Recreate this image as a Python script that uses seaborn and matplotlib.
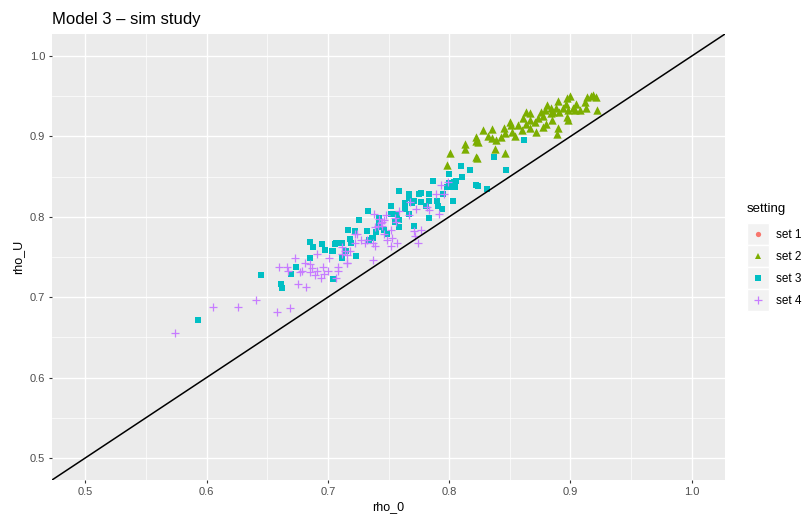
import matplotlib
matplotlib.use("Agg")
import matplotlib.pyplot as plt
import numpy as np
import pandas as pd
import seaborn as sns
from matplotlib.legend_handler import HandlerBase
from matplotlib.patches import Rectangle
from matplotlib.lines import Line2D

# ---- simulation results: rho_0 vs rho_U per setting ----
set1_rho0 = []
set1_rhoU = []

set2_rho0 = [0.798, 0.801, 0.813, 0.813, 0.822, 0.822, 0.824, 0.822, 0.823, 0.838,
             0.846, 0.832, 0.835, 0.835, 0.839, 0.843, 0.846, 0.850, 0.851, 0.852,
             0.854, 0.857, 0.860, 0.861, 0.863, 0.867, 0.867, 0.867, 0.871, 0.872,
             0.876, 0.877, 0.879, 0.880, 0.881, 0.884, 0.884, 0.886, 0.888, 0.890,
             0.891, 0.890, 0.889, 0.894, 0.896, 0.897, 0.898, 0.897, 0.898, 0.900,
             0.905, 0.904, 0.908, 0.912, 0.913, 0.914, 0.917, 0.919, 0.921, 0.922,
             0.873, 0.863, 0.877, 0.885, 0.902, 0.845, 0.828]
set2_rhoU = [0.865, 0.880, 0.890, 0.885, 0.894, 0.899, 0.893, 0.875, 0.873, 0.884,
             0.880, 0.901, 0.909, 0.898, 0.895, 0.899, 0.904, 0.918, 0.914, 0.905,
             0.901, 0.914, 0.908, 0.923, 0.916, 0.929, 0.920, 0.911, 0.918, 0.905,
             0.930, 0.926, 0.933, 0.916, 0.939, 0.935, 0.929, 0.931, 0.936, 0.944,
             0.930, 0.911, 0.903, 0.936, 0.941, 0.948, 0.933, 0.924, 0.920, 0.950,
             0.941, 0.933, 0.933, 0.943, 0.936, 0.949, 0.950, 0.951, 0.949, 0.933,
             0.923, 0.930, 0.912, 0.920, 0.936, 0.910, 0.908]

set3_rho0 = [0.862, 0.837, 0.847, 0.810, 0.817, 0.800, 0.811, 0.806, 0.804, 0.800,
             0.802, 0.805, 0.822, 0.824, 0.831, 0.787, 0.798, 0.795, 0.803, 0.783,
             0.777, 0.775, 0.767, 0.759, 0.767, 0.771, 0.777, 0.783, 0.781, 0.790,
             0.791, 0.794, 0.783, 0.769, 0.764, 0.764, 0.767, 0.752, 0.752, 0.757,
             0.759, 0.755, 0.759, 0.771, 0.733, 0.742, 0.742, 0.741, 0.726, 0.717,
             0.722, 0.732, 0.718, 0.712, 0.707, 0.704, 0.723, 0.712, 0.737, 0.734,
             0.740, 0.746, 0.749, 0.685, 0.688, 0.695, 0.698, 0.706, 0.719, 0.703,
             0.715, 0.685, 0.674, 0.670, 0.704, 0.645, 0.661, 0.662, 0.593, 0.736]
set3_rhoU = [0.895, 0.874, 0.858, 0.863, 0.858, 0.853, 0.849, 0.845, 0.843, 0.842,
             0.837, 0.837, 0.839, 0.838, 0.835, 0.844, 0.837, 0.829, 0.820, 0.829,
             0.830, 0.829, 0.829, 0.832, 0.823, 0.820, 0.818, 0.820, 0.814, 0.820,
             0.813, 0.810, 0.799, 0.817, 0.817, 0.810, 0.804, 0.813, 0.804, 0.804,
             0.796, 0.794, 0.787, 0.788, 0.807, 0.799, 0.793, 0.787, 0.796, 0.783,
             0.782, 0.782, 0.772, 0.768, 0.767, 0.758, 0.751, 0.749, 0.774, 0.771,
             0.781, 0.783, 0.779, 0.769, 0.763, 0.766, 0.759, 0.766, 0.768, 0.758,
             0.757, 0.749, 0.737, 0.729, 0.723, 0.728, 0.716, 0.712, 0.671, 0.774]

set4_rho0 = [0.574, 0.605, 0.626, 0.641, 0.658, 0.669, 0.673, 0.660, 0.666, 0.667,
             0.675, 0.682, 0.681, 0.685, 0.687, 0.691, 0.685, 0.689, 0.696, 0.697,
             0.700, 0.694, 0.677, 0.679, 0.708, 0.712, 0.714, 0.716, 0.718, 0.716,
             0.707, 0.708, 0.691, 0.722, 0.724, 0.727, 0.731, 0.722, 0.737, 0.737,
             0.739, 0.739, 0.741, 0.744, 0.745, 0.748, 0.738, 0.742, 0.746, 0.749,
             0.793, 0.799, 0.796, 0.789, 0.783, 0.773, 0.767, 0.759, 0.756, 0.746,
             0.745, 0.752, 0.753, 0.771, 0.772, 0.777, 0.774, 0.757, 0.752, 0.712,
             0.716, 0.701, 0.732, 0.768, 0.782, 0.755, 0.792]
set4_rhoU = [0.656, 0.688, 0.688, 0.697, 0.682, 0.687, 0.749, 0.737, 0.738, 0.733,
             0.717, 0.713, 0.743, 0.741, 0.736, 0.733, 0.731, 0.728, 0.737, 0.729,
             0.733, 0.724, 0.731, 0.733, 0.737, 0.754, 0.757, 0.752, 0.758, 0.742,
             0.724, 0.732, 0.754, 0.779, 0.779, 0.771, 0.768, 0.767, 0.746, 0.767,
             0.764, 0.787, 0.789, 0.792, 0.793, 0.802, 0.804, 0.797, 0.779, 0.771,
             0.840, 0.843, 0.828, 0.829, 0.808, 0.810, 0.802, 0.807, 0.793, 0.796,
             0.788, 0.783, 0.774, 0.782, 0.776, 0.783, 0.767, 0.768, 0.764, 0.762,
             0.743, 0.749, 0.771, 0.818, 0.812, 0.798, 0.804]

settings = ["set 1", "set 2", "set 3", "set 4"]
colors = {"set 1": "#F8766D", "set 2": "#7CAE00", "set 3": "#00BFC4", "set 4": "#C77CFF"}
markers = {"set 1": "o", "set 2": "^", "set 3": "s", "set 4": "+"}

data = {
    "set 1": (set1_rho0, set1_rhoU),
    "set 2": (set2_rho0, set2_rhoU),
    "set 3": (set3_rho0, set3_rhoU),
    "set 4": (set4_rho0, set4_rhoU),
}
df = pd.concat(
    [pd.DataFrame({"rho_0": x, "rho_U": y, "setting": k}) for k, (x, y) in data.items()],
    ignore_index=True,
)

plt.rcParams["font.family"] = ["Liberation Sans", "DejaVu Sans"]

fig = plt.figure(figsize=(8.04, 5.14), dpi=100)
W, H = 804, 514
ax = fig.add_axes([52 / W, 1 - 480 / H, (725 - 52) / W, (480 - 34) / H])
ax.set_facecolor("#EBEBEB")
for sp in ax.spines.values():
    sp.set_visible(False)

lims = (0.4725, 1.0275)
ax.set_xlim(*lims)
ax.set_ylim(*lims)
major = [0.5, 0.6, 0.7, 0.8, 0.9, 1.0]
minor = [0.55, 0.65, 0.75, 0.85, 0.95]
ax.set_xticks(major)
ax.set_yticks(major)
ax.set_xticks(minor, minor=True)
ax.set_yticks(minor, minor=True)
ax.set_xticklabels([f"{v:.1f}" for v in major])
ax.set_yticklabels([f"{v:.1f}" for v in major])
ax.grid(which="major", color="white", linewidth=1.0)
ax.grid(which="minor", color="white", linewidth=0.5)
ax.set_axisbelow(True)
ax.tick_params(which="minor", length=0)
ax.tick_params(which="major", length=2.2, width=0.8, color="#333333",
               labelcolor="#4D4D4D", labelsize=8, pad=2.6)

sizes = {"set 1": 20, "set 2": 36, "set 3": 25, "set 4": 40}
for k in settings:
    sub = df[df["setting"] == k]
    if sub.empty:
        continue
    if markers[k] == "+":
        sns.scatterplot(data=sub, x="rho_0", y="rho_U", marker="+", color=colors[k],
                        s=sizes[k], linewidth=0.9, ax=ax, legend=False, zorder=3)
    else:
        sns.scatterplot(data=sub, x="rho_0", y="rho_U", marker=markers[k], color=colors[k],
                        s=sizes[k], linewidth=0, ax=ax, legend=False, zorder=3)

ax.axline((0.5, 0.5), slope=1, color="black", linewidth=1.1, zorder=4)

ax.set_xlabel("rho_0", fontsize=9, color="black", labelpad=3)
ax.set_ylabel("rho_U", fontsize=9, color="black", labelpad=4)
ax.set_title("Model 3 \u2013 sim study", loc="left", fontsize=12, pad=7)


class KeyHandler(HandlerBase):
    def create_artists(self, legend, orig_handle, xdescent, ydescent, width, height,
                       fontsize, trans):
        bg = Rectangle((-xdescent, -ydescent), width, height, facecolor="#F2F2F2",
                       edgecolor="white", linewidth=1.0, transform=trans)
        mk = Line2D([width / 2 - xdescent], [height / 2 - ydescent],
                    marker=orig_handle.get_marker(), color=orig_handle.get_color(),
                    markersize=orig_handle.get_markersize(),
                    markeredgewidth=orig_handle.get_markeredgewidth(),
                    linestyle="none", transform=trans)
        return [bg, mk]


leg_ms = {"set 1": 3.8, "set 2": 4.8, "set 3": 4.3, "set 4": 5.6}
handles = [Line2D([], [], marker=markers[k], color=colors[k], markersize=leg_ms[k],
                  markeredgewidth=0.9 if markers[k] == "+" else 0, linestyle="none")
           for k in settings]
fig.text(747 / W, 1 - 209 / H, "setting", fontsize=9.5, va="center", ha="left")
leg = fig.legend(handles, settings, loc="upper left", bbox_to_anchor=(747 / W, 1 - 223 / H),
                 frameon=False, fontsize=8.5, handler_map={Line2D: KeyHandler()},
                 handlelength=1.86, handleheight=2.49, labelspacing=0.0,
                 handletextpad=0.6, borderpad=0, borderaxespad=0)

fig.savefig("out.png", dpi=100)
